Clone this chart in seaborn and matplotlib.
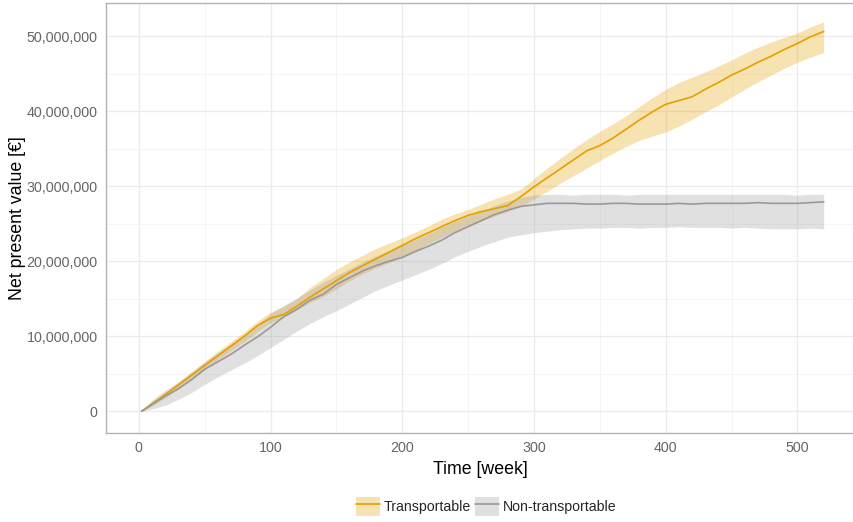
import numpy as np
import pandas as pd
import seaborn as sns
import matplotlib.pyplot as plt
from matplotlib.patches import Patch
from matplotlib.lines import Line2D
from matplotlib.ticker import FuncFormatter, MultipleLocator

sns.set_theme(style="whitegrid")
plt.rcParams["font.family"] = ["Liberation Sans", "DejaVu Sans"]

weeks = [2, 10, 20, 30, 40, 50, 60, 70, 80, 90, 100, 110, 120, 130, 140, 150,
         160, 170, 180, 190, 200, 210, 220, 230, 240, 250, 260, 270, 280, 290,
         300, 310, 320, 330, 340, 350, 360, 370, 380, 390, 400, 410, 420, 430,
         440, 450, 460, 470, 480, 490, 500, 510, 520]

# values in millions of euro
trans_mean = [0, 1.0, 2.2, 3.5, 4.8, 6.1, 7.4, 8.7, 10.0, 11.4, 12.4, 12.9, 14.0,
              15.2, 16.3, 17.4, 18.5, 19.4, 20.3, 21.2, 22.1, 23.0, 23.8, 24.6,
              25.4, 26.1, 26.6, 27.0, 27.4, 28.6, 29.9, 31.1, 32.3, 33.5, 34.7,
              35.4, 36.4, 37.6, 38.8, 39.9, 40.9, 41.4, 41.9, 42.9, 43.8, 44.8,
              45.6, 46.5, 47.3, 48.2, 49.0, 49.9, 50.6]
trans_low = [0, 0.7, 1.8, 3.0, 4.4, 5.6, 6.9, 8.1, 9.3, 10.6, 11.8, 12.5, 13.5,
             14.5, 15.3, 16.3, 17.4, 18.3, 19.1, 19.8, 20.5, 21.4, 22.3, 23.2,
             24.0, 24.8, 25.4, 26.0, 26.6, 27.3, 28.3, 29.3, 30.4, 31.4, 32.4,
             33.4, 34.4, 35.3, 36.1, 36.7, 37.2, 38.0, 38.9, 39.9, 40.8, 41.9,
             42.9, 43.9, 44.8, 45.7, 46.5, 47.2, 47.8]
trans_high = [0, 1.3, 2.6, 3.9, 5.3, 6.6, 8.0, 9.3, 10.6, 12.0, 13.2, 14.0, 15.0,
              16.5, 17.7, 18.9, 19.9, 20.8, 21.7, 22.4, 23.1, 23.9, 24.7, 25.6,
              26.3, 26.9, 27.6, 28.3, 28.9, 29.6, 31.0, 32.4, 33.7, 35.0, 36.2,
              37.3, 38.3, 39.4, 40.6, 41.8, 42.9, 43.8, 44.5, 45.2, 46.0, 46.8,
              47.7, 48.5, 49.2, 49.8, 50.4, 51.2, 51.9]

nontrans_mean = [0, 0.9, 2.0, 3.0, 4.2, 5.6, 6.6, 7.6, 8.8, 9.9, 11.2, 12.6, 13.6,
                 14.8, 15.6, 16.9, 17.8, 18.7, 19.4, 20.0, 20.5, 21.3, 22.0, 22.8,
                 23.8, 24.6, 25.4, 26.2, 26.8, 27.3, 27.5, 27.7, 27.7, 27.7, 27.6,
                 27.6, 27.7, 27.7, 27.6, 27.6, 27.6, 27.7, 27.6, 27.7, 27.7, 27.7,
                 27.7, 27.8, 27.7, 27.7, 27.7, 27.8, 27.9]
nontrans_low = [0, 0.3, 0.8, 1.6, 2.5, 3.6, 4.6, 5.5, 6.4, 7.4, 8.5, 9.6, 10.7,
                11.7, 12.6, 13.4, 14.3, 15.2, 16.1, 16.8, 17.5, 18.2, 18.9, 19.7,
                20.6, 21.3, 22.0, 22.6, 23.2, 23.5, 23.8, 24.0, 24.2, 24.3, 24.4,
                24.4, 24.5, 24.5, 24.4, 24.5, 24.5, 24.6, 24.5, 24.5, 24.5, 24.4,
                24.5, 24.4, 24.3, 24.3, 24.3, 24.4, 24.3]
nontrans_high = [0, 1.5, 2.8, 3.9, 5.2, 6.6, 7.8, 9.0, 10.2, 11.6, 13.0, 14.1, 15.1,
                 16.2, 17.2, 18.1, 19.0, 19.9, 20.7, 21.4, 22.1, 22.9, 23.7, 24.5,
                 25.3, 26.0, 26.7, 27.4, 28.0, 28.5, 28.8, 28.9, 28.9, 28.8, 28.9,
                 28.9, 28.9, 28.8, 28.9, 28.9, 28.9, 28.9, 28.9, 28.9, 28.9, 28.9,
                 28.9, 28.9, 28.9, 28.9, 28.8, 28.9, 28.9]

labels = ["Transportable", "Non-transportable"]
colors = ["#E69F00", "#999999"]

df = pd.concat([
    pd.DataFrame({"week": weeks, "npv": np.array(trans_mean) * 1e6,
                  "low": np.array(trans_low) * 1e6, "high": np.array(trans_high) * 1e6,
                  "type": labels[0]}),
    pd.DataFrame({"week": weeks, "npv": np.array(nontrans_mean) * 1e6,
                  "low": np.array(nontrans_low) * 1e6, "high": np.array(nontrans_high) * 1e6,
                  "type": labels[1]}),
])

fig = plt.figure(figsize=(8.54, 5.22), dpi=100)
ax = fig.add_axes([106 / 854, 1 - 433 / 522, 1 - 106 / 854, 430 / 522])

for lab, col in zip(labels, colors):
    d = df[df["type"] == lab]
    ax.fill_between(d["week"], d["low"], d["high"], color=col, alpha=0.3,
                    linewidth=0, zorder=2)

sns.lineplot(data=df, x="week", y="npv", hue="type", palette=colors,
             hue_order=labels, linewidth=1.2, ax=ax, legend=False, zorder=3)

ax.set_xlim(-25, 543)
ax.set_ylim(-2.9e6, 54.4e6)
ax.xaxis.set_major_locator(MultipleLocator(100))
ax.xaxis.set_minor_locator(MultipleLocator(50))
ax.yaxis.set_major_locator(MultipleLocator(10e6))
ax.yaxis.set_minor_locator(MultipleLocator(5e6))
ax.yaxis.set_major_formatter(FuncFormatter(lambda v, p: f"{v:,.0f}"))

ax.set_facecolor("white")
ax.grid(which="major", color="#EBEBEB", linewidth=0.9)
ax.grid(which="minor", color="#F4F4F4", linewidth=0.6)
ax.set_axisbelow(True)
for side in ["left", "bottom", "top"]:
    ax.spines[side].set_visible(True)
    ax.spines[side].set_color("#B3B3B3")
    ax.spines[side].set_linewidth(1.0)
ax.spines["right"].set_visible(False)

ax.tick_params(axis="both", which="both", length=0, labelsize=10.3,
               labelcolor="#666666", pad=6)
ax.set_xlabel("Time [week]", fontsize=12.8, color="black", labelpad=4)
ax.set_ylabel("Net present value [€]", fontsize=12.8, color="black", labelpad=0.5)

handles = [(Patch(facecolor=c, alpha=0.3, edgecolor="none"),
            Line2D([], [], color=c, linewidth=1.2)) for c in colors]
fig.legend(handles, labels, loc="center", bbox_to_anchor=(0.569, 0.029),
           ncol=2, frameon=False, fontsize=10.2, handlelength=1.7,
           handleheight=1.7, handletextpad=0.25, columnspacing=0.3)

fig.savefig("out.png", dpi=100)
